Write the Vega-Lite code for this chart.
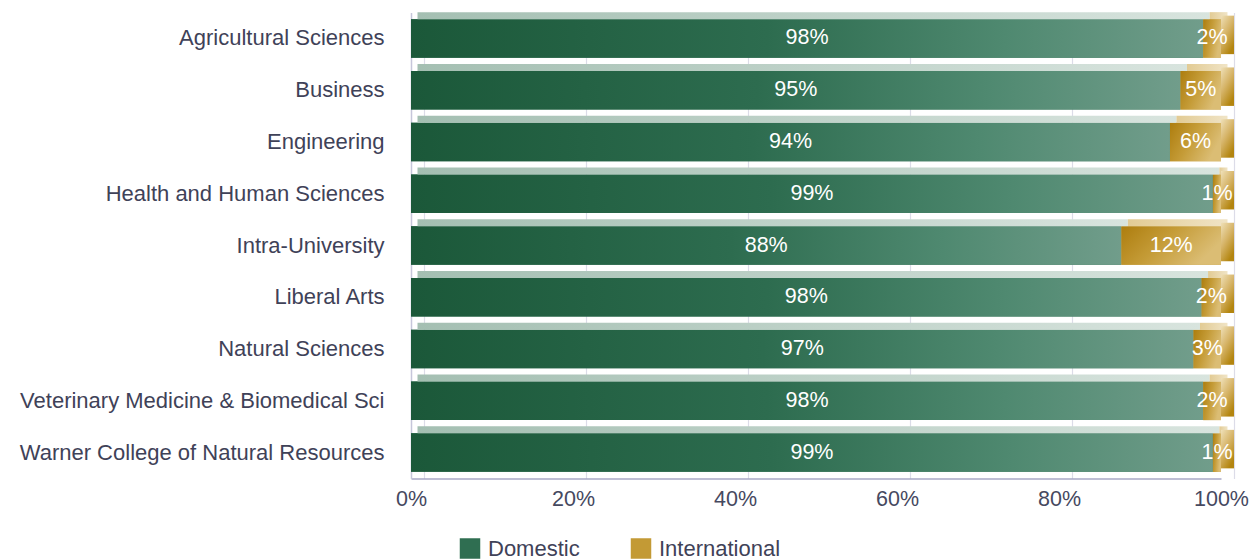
{
  "$schema": "https://vega.github.io/schema/vega-lite/v6.json",
  "autosize": "none",
  "width": 810,
  "height": 466,
  "padding": {"left": 411, "top": 12.5, "right": 35, "bottom": 81.5},
  "background": "white",
  "config": {
    "font": "Liberation Sans",
    "view": {"stroke": null}
  },
  "data": {
    "values": [
      {"college": "Agricultural Sciences", "type": "Domestic", "share": 0.978},
      {"college": "Agricultural Sciences", "type": "International", "share": 0.022},
      {"college": "Business", "type": "Domestic", "share": 0.95},
      {"college": "Business", "type": "International", "share": 0.05},
      {"college": "Engineering", "type": "Domestic", "share": 0.937},
      {"college": "Engineering", "type": "International", "share": 0.063},
      {"college": "Health and Human Sciences", "type": "Domestic", "share": 0.99},
      {"college": "Health and Human Sciences", "type": "International", "share": 0.01},
      {"college": "Intra-University", "type": "Domestic", "share": 0.877},
      {"college": "Intra-University", "type": "International", "share": 0.123},
      {"college": "Liberal Arts", "type": "Domestic", "share": 0.976},
      {"college": "Liberal Arts", "type": "International", "share": 0.024},
      {"college": "Natural Sciences", "type": "Domestic", "share": 0.966},
      {"college": "Natural Sciences", "type": "International", "share": 0.034},
      {"college": "Veterinary Medicine & Biomedical Sci", "type": "Domestic", "share": 0.978},
      {"college": "Veterinary Medicine & Biomedical Sci", "type": "International", "share": 0.022},
      {"college": "Warner College of Natural Resources", "type": "Domestic", "share": 0.99},
      {"college": "Warner College of Natural Resources", "type": "International", "share": 0.01}
    ]
  },
  "transform": [
    {"stack": "share", "groupby": ["college"], "sort": [{"field": "type", "order": "ascending"}], "as": ["x0", "x1"]},
    {"calculate": "(datum.x0 + datum.x1) / 2", "as": "mid"}
  ],
  "encoding": {
    "y": {
      "field": "college", "type": "nominal", "sort": null, "title": null,
      "scale": {"paddingInner": 0.256, "paddingOuter": 0.128},
      "axis": {
        "labelFontSize": 22, "labelColor": "#3f4258", "labelPadding": 27,
        "ticks": false, "domain": true, "domainColor": "#c6c6da", "domainWidth": 1.5,
        "labelLimit": 500
      }
    }
  },
  "layer": [
    {
      "mark": {"type": "bar"},
      "encoding": {
        "x": {
          "field": "x0", "type": "quantitative", "scale": {"domain": [0, 1], "nice": false},
          "title": null,
          "axis": {
            "orient": "bottom", "format": ".0%", "values": [0, 0.2, 0.4, 0.6, 0.8, 1],
            "grid": false, "ticks": false, "labelFontSize": 21.5, "labelColor": "#46495f",
            "labelPadding": 10, "domainColor": "#a9a9c6", "domainWidth": 1.5, "labelFlush": false
          }
        },
        "x2": {"field": "x1"},
        "color": {
          "field": "type", "type": "nominal",
          "scale": {"domain": ["Domestic", "International"], "range": ["#2f6e51", "#c39a35"]},
          "legend": {
            "title": null, "orient": "none", "legendX": 48, "legendY": 525,
            "direction": "horizontal", "symbolType": "square", "symbolSize": 420,
            "symbolStrokeWidth": 0, "labelFontSize": 22, "labelColor": "#3f4258",
            "labelOffset": 7, "columnPadding": 50, "padding": 0, "labelLimit": 300
          }
        }
      }
    },
    {
      "transform": [{"filter": "datum.type === 'Domestic'"}],
      "mark": {
        "type": "bar",
        "fill": {
          "gradient": "linear", "x1": 0, "y1": 0, "x2": 1, "y2": 0,
          "stops": [
            {"offset": 0, "color": "#1b5839"},
            {"offset": 0.45, "color": "#2d6c4f"},
            {"offset": 0.75, "color": "#4f8970"},
            {"offset": 1, "color": "#719d8b"}
          ]
        }
      },
      "encoding": {
        "x": {"field": "x0", "type": "quantitative", "axis": {
          "orient": "top", "grid": true, "labels": false, "ticks": false, "domain": false,
          "tickOffset": 13, "gridColor": "#dcdce8", "gridWidth": 1.2,
          "values": [0, 0.2, 0.4, 0.6, 0.8, 1], "title": null
        }},
        "x2": {"field": "x1"}
      }
    },
    {
      "transform": [{"filter": "datum.type === 'International'"}],
      "mark": {
        "type": "bar",
        "fill": {
          "gradient": "linear", "x1": 0, "y1": 0, "x2": 1, "y2": 0.4,
          "stops": [
            {"offset": 0, "color": "#ad7d0e"},
            {"offset": 0.5, "color": "#c59c38"},
            {"offset": 1, "color": "#dbbd74"}
          ]
        }
      },
      "encoding": {
        "x": {"field": "x0", "type": "quantitative", "axis": null},
        "x2": {"field": "x1"}
      }
    },
    {
      "transform": [{"filter": "datum.type === 'Domestic'"}],
      "mark": {
        "type": "bar", "height": 7, "yOffset": -22.75, "xOffset": 6.5, "x2Offset": 6.5,
        "fill": {
          "gradient": "linear", "x1": 0, "y1": 0, "x2": 1, "y2": 0,
          "stops": [
            {"offset": 0, "color": "#a4bfb2"},
            {"offset": 1, "color": "#d8e4de"}
          ]
        }
      },
      "encoding": {
        "x": {"field": "x0", "type": "quantitative", "axis": null},
        "x2": {"field": "x1"}
      }
    },
    {
      "transform": [{"filter": "datum.type === 'International'"}],
      "mark": {
        "type": "bar", "height": 7, "yOffset": -22.75, "xOffset": 6.5, "x2Offset": 6.5,
        "fill": {
          "gradient": "linear", "x1": 0, "y1": 0, "x2": 1, "y2": 0,
          "stops": [
            {"offset": 0, "color": "#e2cb94"},
            {"offset": 1, "color": "#f0e4c6"}
          ]
        }
      },
      "encoding": {
        "x": {"field": "x0", "type": "quantitative", "axis": null},
        "x2": {"field": "x1"}
      }
    },
    {
      "transform": [{"filter": "datum.type === 'International'"}],
      "mark": {
        "type": "tick", "orient": "vertical", "thickness": 13, "size": 38.5,
        "xOffset": 6.5, "yOffset": -3.5, "opacity": 1,
        "fill": {
          "gradient": "linear", "x1": 0, "y1": 0, "x2": 0.6, "y2": 1,
          "stops": [
            {"offset": 0, "color": "#efe0b8"},
            {"offset": 0.5, "color": "#d6b468"},
            {"offset": 1, "color": "#b3850f"}
          ]
        }
      },
      "encoding": {
        "x": {"field": "x1", "type": "quantitative", "axis": null}
      }
    },
    {
      "mark": {"type": "text", "color": "white", "fontSize": 21.5, "align": "center", "baseline": "middle"},
      "encoding": {
        "x": {"field": "mid", "type": "quantitative", "axis": null},
        "text": {"field": "share", "type": "quantitative", "format": ".0%"}
      }
    }
  ],
  "resolve": {"axis": {"x": "independent"}}
}
